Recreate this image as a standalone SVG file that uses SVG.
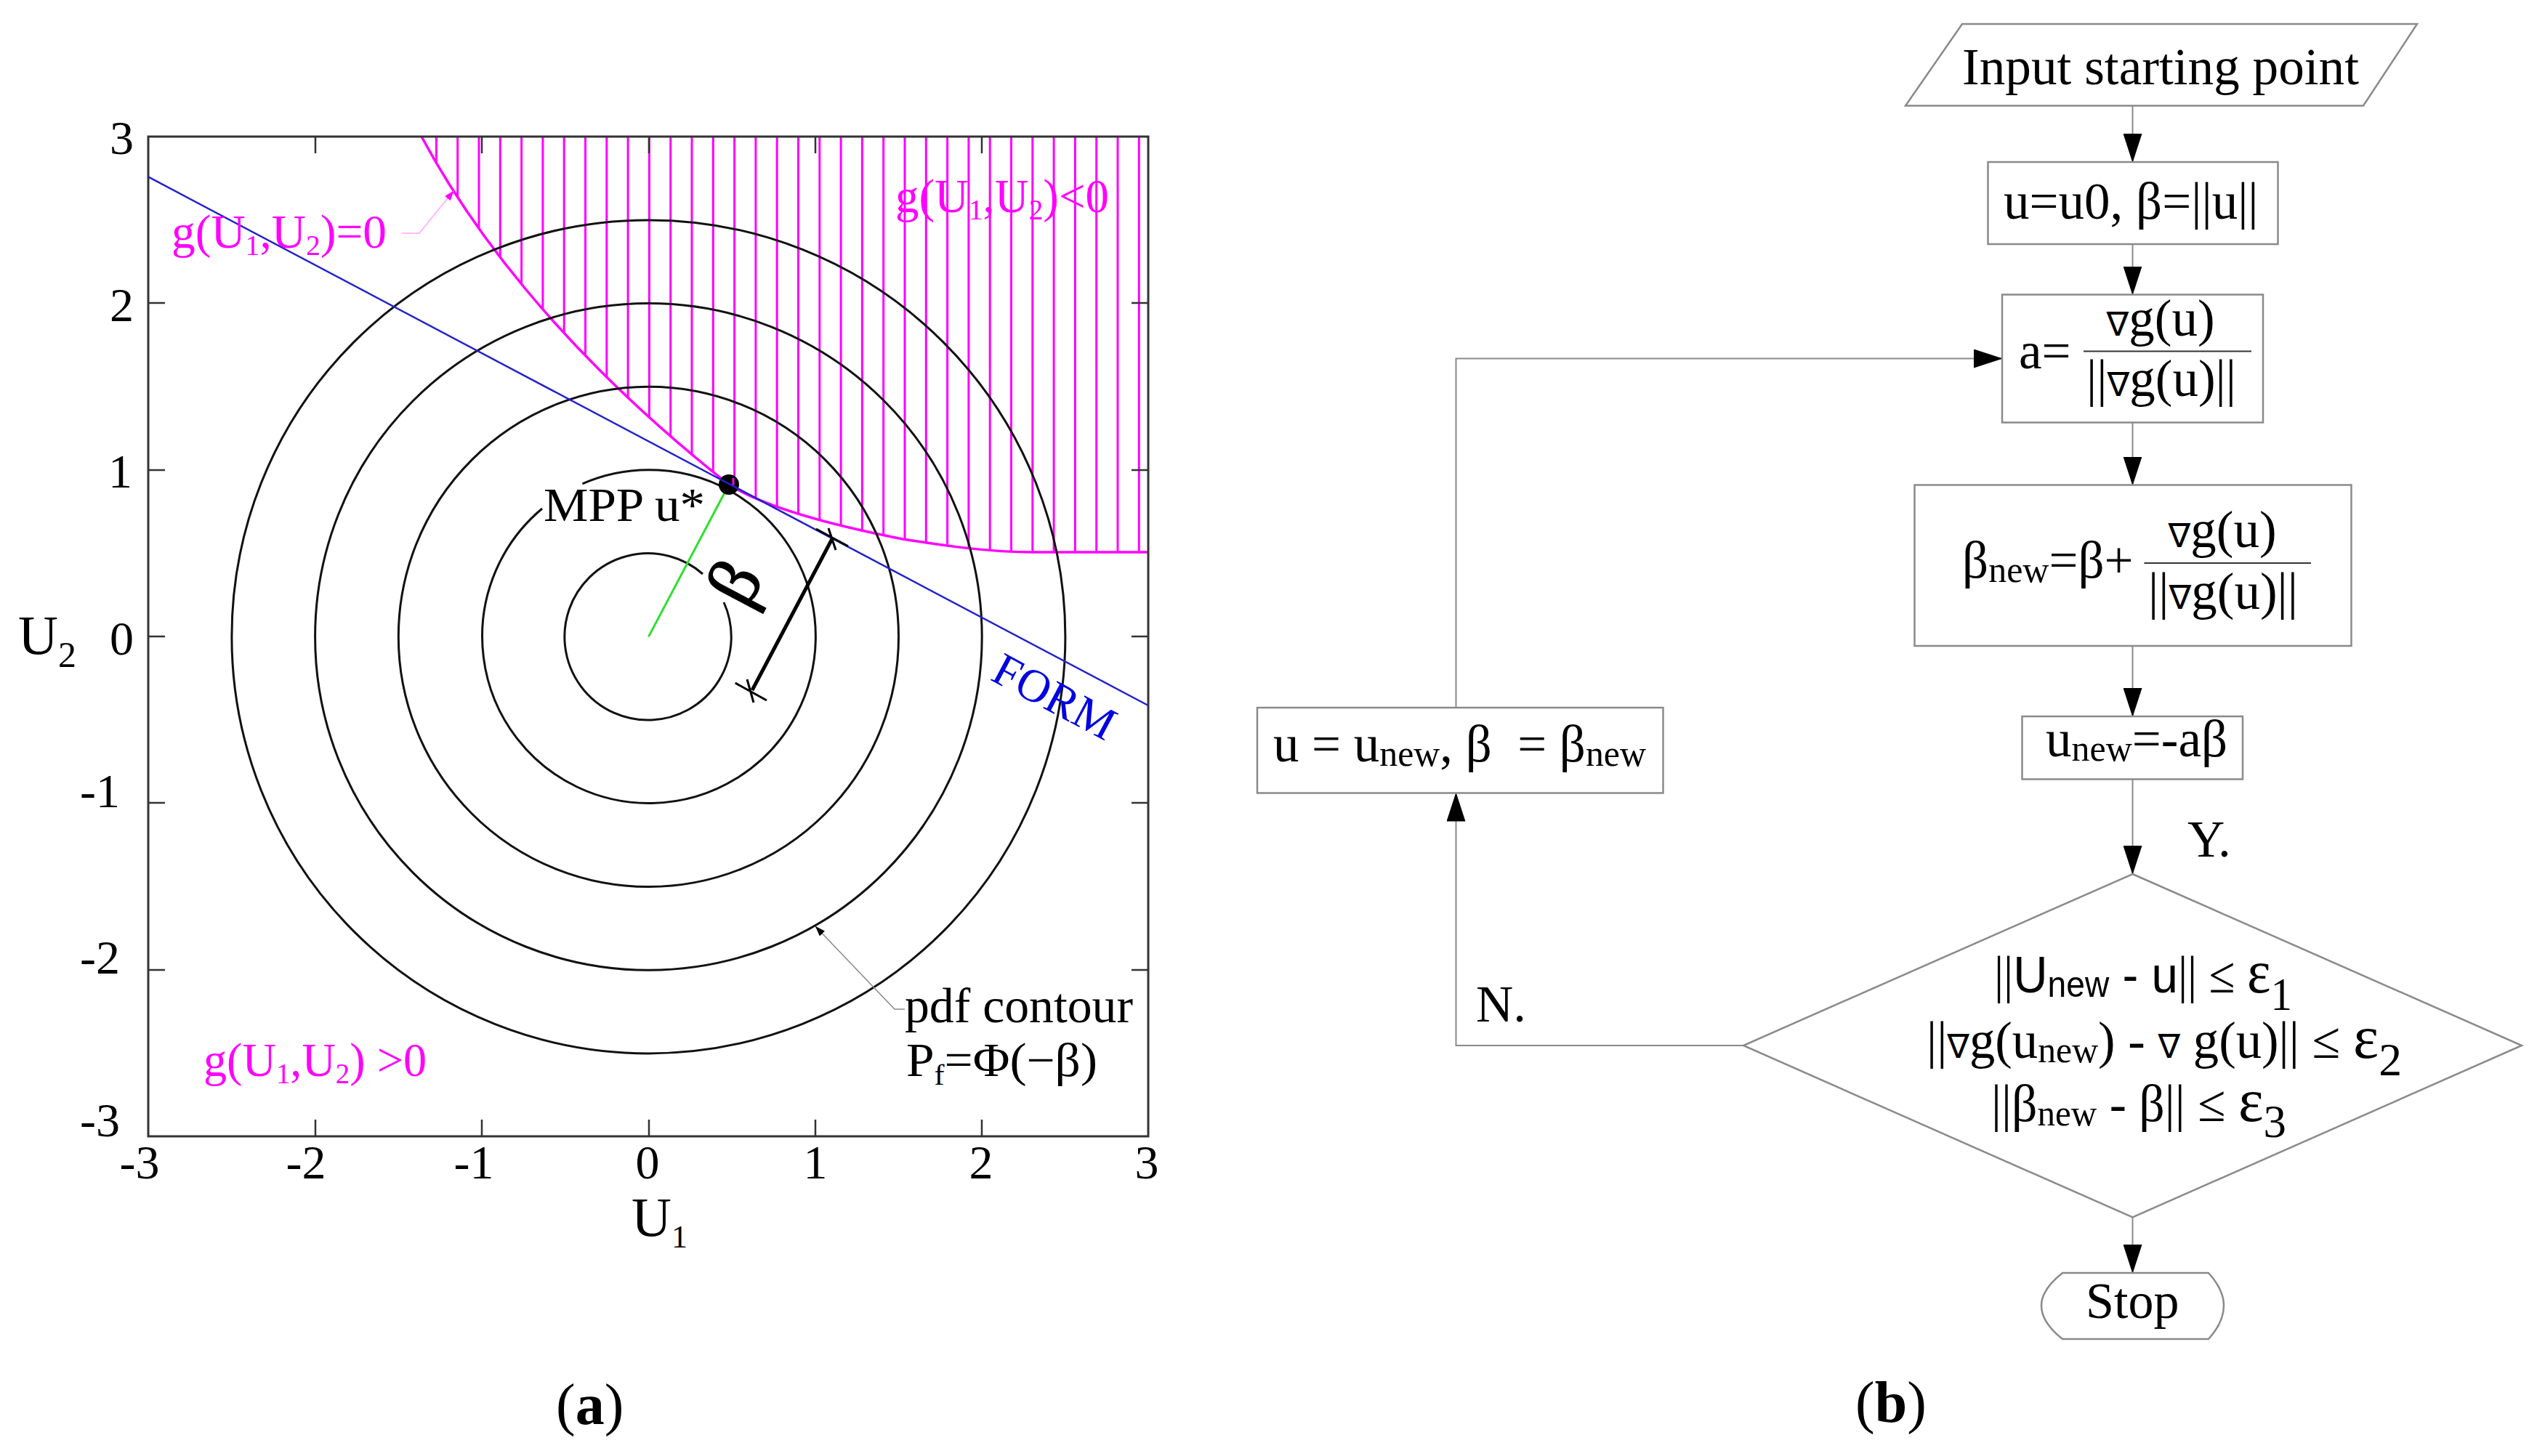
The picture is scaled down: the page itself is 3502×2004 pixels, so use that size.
<svg xmlns="http://www.w3.org/2000/svg" width="3502" height="2004" viewBox="0 0 3502 2004">
<style>
text{font-family:"Liberation Serif","DejaVu Serif",serif;fill:#000;white-space:pre}
.p{font-size:66px}
.f{font-size:71px}
.m{fill:#f0f}
.s{font-size:40px}
.ss{font-size:50px}
.a{font-family:"Liberation Sans","DejaVu Sans",sans-serif}
.e{font-size:84px}
.d{font-size:64px}
.frame{fill:none;stroke:#333;stroke-width:3}
.circ{fill:none;stroke:#111;stroke-width:3}
.box{fill:#fff;stroke:#8a8a8a;stroke-width:2.5}
.link{fill:none;stroke:#8a8a8a;stroke-width:2;marker-end:url(#ah)}
.fr{stroke:#333;stroke-width:2.5}
.nb{font-size:46px;font-family:"DejaVu Sans",sans-serif}
</style>
<defs>
<marker id="ah" markerUnits="userSpaceOnUse" markerWidth="40" markerHeight="26" refX="39" refY="13" orient="auto"><path d="M0 0L40 13L0 26z" fill="#000"/></marker>
<marker id="sm" markerUnits="userSpaceOnUse" markerWidth="14" markerHeight="10" refX="13" refY="5" orient="auto"><path d="M0 0L14 5L0 10z" fill="#f0f"/></marker>
<marker id="sk" markerUnits="userSpaceOnUse" markerWidth="14" markerHeight="10" refX="13" refY="5" orient="auto"><path d="M0 0L14 5L0 10z" fill="#000"/></marker>
<clipPath id="hz"><path d="M580 188C640 300 760 475 1003 667C1055 700 1150 724 1242 742C1300 751 1360 760 1421 760L1580 760V188Z"/></clipPath>
</defs>
<rect width="3502" height="2004" fill="#fff"/>
<g id="plot-a">
<path clip-path="url(#hz)" fill="none" stroke="#f0f" stroke-width="3" d="M600.4 188v580m29.3-580v580m29.3-580v580m29.3-580v580m29.3-580v580m29.3-580v580m29.3-580v580m29.3-580v580m29.3-580v580m29.3-580v580m29.3-580v580m29.3-580v580m29.3-580v580m29.3-580v580m29.3-580v580m29.3-580v580m29.3-580v580m29.3-580v580m29.3-580v580m29.3-580v580m29.3-580v580m29.3-580v580m29.3-580v580m29.3-580v580m29.3-580v580m29.3-580v580m29.3-580v580m29.3-580v580m29.3-580v580m29.3-580v580m29.3-580v580m29.3-580v580m29.3-580v580m29.3-580v580"/>
<path fill="none" stroke="#f0f" stroke-width="3.5" d="M580 188C640 300 760 475 1003 667C1055 700 1150 724 1242 742C1300 751 1360 760 1421 760L1580 760"/>
<path class="circ" d="M996 829A114.7 114.7 0 1 1 967 790"/>
<path class="circ" d="M801.4 665.8A229.4 229.4 0 1 1 746 700"/>
<circle class="circ" cx="892.4" cy="876.4" r="344.1"/>
<circle class="circ" cx="892.4" cy="876.4" r="458.8"/>
<circle class="circ" cx="892.4" cy="876.4" r="573.5"/>
<rect class="frame" x="204" y="188" width="1376" height="1376"/>
<path class="fr" d="M434 188v23M663 188v23M893 188v23M1122 188v23M1351 188v23M434 1564v-23M663 1564v-23M893 1564v-23M1122 1564v-23M1351 1564v-23M204 417h23M204 647h23M204 876h23M204 1105h23M204 1335h23M1580 417h-23M1580 647h-23M1580 876h-23M1580 1105h-23M1580 1335h-23"/>
<path d="M892.4 876.4L1003 667" stroke="#2ee02e" stroke-width="3" fill="none"/>
<circle cx="1003" cy="667" r="14" fill="#000"/>
<path d="M1009 658v10" stroke="#f0f" stroke-width="3"/>
<path d="M204 243.4L1580 971" stroke="#2222cc" stroke-width="2.5" fill="none"/>
<path d="M1035 950L1145 741.7" stroke="#000" stroke-width="5" fill="none"/>
<path d="M1011.7 940L1055 964M1028 935L1037 967M1123 728L1167 751.7M1140 727L1150 757" stroke="#000" stroke-width="3" fill="none"/>
<path d="M553 321H577L624 263" stroke="#fbf" stroke-width="2" fill="none" marker-end="url(#sm)"/>
<path d="M1245 1389H1231L1122.5 1275.5" stroke="#888" stroke-width="1.5" fill="none" marker-end="url(#sk)"/>
<text class="p" x="184" y="212" text-anchor="end">3</text>
<text class="p" x="184" y="441.500" text-anchor="end">2</text>
<text class="p" x="182" y="671" text-anchor="end">1</text>
<text class="p" x="184" y="900.500" text-anchor="end">0</text>
<text class="p" x="165" y="1111" text-anchor="end">-1</text>
<text class="p" x="165" y="1340" text-anchor="end">-2</text>
<text class="p" x="165" y="1564" text-anchor="end">-3</text>
<text class="p" x="192" y="1622" text-anchor="middle">-3</text>
<text class="p" x="421" y="1622" text-anchor="middle">-2</text>
<text class="p" x="652" y="1622" text-anchor="middle">-1</text>
<text class="p" x="891" y="1622" text-anchor="middle">0</text>
<text class="p" x="1122" y="1622" text-anchor="middle">1</text>
<text class="p" x="1350" y="1622" text-anchor="middle">2</text>
<text class="p" x="1578" y="1622" text-anchor="middle">3</text>
<text x="25" y="900" font-size="76">U<tspan font-size="50" dy="18">2</tspan></text>
<text x="869" y="1701" font-size="76">U<tspan font-size="44" dy="16">1</tspan></text>
<text class="p m" x="236" y="341" textLength="296" lengthAdjust="spacingAndGlyphs">g(U<tspan class="s" dy="10">1</tspan><tspan dy="-10">,U</tspan><tspan class="s" dy="10">2</tspan><tspan dy="-10">)=0</tspan></text>
<text class="p m" x="1232" y="292" textLength="294" lengthAdjust="spacingAndGlyphs">g(U<tspan class="s" dy="10">1</tspan><tspan dy="-10">,U</tspan><tspan class="s" dy="10">2</tspan><tspan dy="-10">)&lt;0</tspan></text>
<text class="p m" x="280" y="1481" textLength="307" lengthAdjust="spacingAndGlyphs">g(U<tspan class="s" dy="10">1</tspan><tspan dy="-10">,U</tspan><tspan class="s" dy="10">2</tspan><tspan dy="-10">) &gt;0</tspan></text>
<text class="p" x="748" y="717" textLength="222" lengthAdjust="spacingAndGlyphs">MPP u*</text>
<text x="1245" y="1407" font-size="67" textLength="314" lengthAdjust="spacingAndGlyphs">pdf contour</text>
<text class="p" x="1247" y="1481" textLength="263" lengthAdjust="spacingAndGlyphs">P<tspan class="s" dy="12">f</tspan><tspan dy="-12">=Φ(−β)</tspan></text>
<text font-size="64" fill="#0000e0" style="fill:#0000e0" transform="translate(1361 935) rotate(28)">FORM</text>
<text font-size="100" stroke="#000" stroke-width="1.5" transform="translate(1028 840) rotate(-62)">β</text>
<text x="765" y="1960" font-size="80">(<tspan font-weight="bold">a</tspan>)</text>
</g>
<g id="connectors">
<path class="link" d="M2934.500 145V223"/>
<path class="link" d="M2934.500 336V405.500"/>
<path class="link" d="M2934.500 581.500V667.500"/>
<path class="link" d="M2934.500 889V986"/>
<path class="link" d="M2934.500 1072.500V1203"/>
<path class="link" d="M2934.500 1675.500V1752"/>
<path class="link" d="M2399 1439H2003.500V1091.500"/>
<path class="link" d="M2003.500 974V493.500H2755"/>
</g>
<g id="node-input">
<path class="box" d="M2700 33H3326L3252 145.500H2622Z"/>
<text class="f" x="2700" y="116" textLength="546" lengthAdjust="spacingAndGlyphs">Input starting point</text>
</g>
<g id="node-init">
<rect class="box" x="2735.500" y="223" width="399" height="113"/>
<text class="f" x="2757" y="301">u=u0, β=||u||</text>
</g>
<g id="node-a">
<rect class="box" x="2755" y="405.500" width="359" height="176"/>
<text class="f" x="2778" y="507">a=</text>
<path d="M2867 483.500H3098" stroke="#333" stroke-width="2"/>
<text class="f" x="2973" y="462" text-anchor="middle"><tspan class="nb">∇</tspan>g(u)</text>
<text class="f" x="2974" y="545" text-anchor="middle">||<tspan class="nb">∇</tspan>g(u)||</text>
</g>
<g id="node-beta">
<rect class="box" x="2634.500" y="667.500" width="601" height="221.500"/>
<text class="f" x="2700" y="795">β<tspan class="ss" dy="6">new</tspan><tspan dy="-6">=β+</tspan></text>
<path d="M2950.500 775H3180" stroke="#333" stroke-width="2"/>
<text class="f" x="3058" y="753" text-anchor="middle"><tspan class="nb">∇</tspan>g(u)</text>
<text class="f" x="3059" y="838" text-anchor="middle">||<tspan class="nb">∇</tspan>g(u)||</text>
</g>
<g id="node-unew">
<rect class="box" x="2782.500" y="986" width="303.500" height="86.500"/>
<text class="f" x="2815" y="1041">u<tspan class="ss" dy="6">new</tspan><tspan dy="-6">=-aβ</tspan></text>
</g>
<g id="node-update">
<rect class="box" x="1730" y="974" width="558.500" height="117.500"/>
<text class="f" x="1752" y="1048" textLength="513" lengthAdjust="spacingAndGlyphs">u = u<tspan class="ss" dy="6">new</tspan><tspan dy="-6">, β  = β</tspan><tspan class="ss" dy="6">new</tspan></text>
</g>
<g id="node-check">
<path class="box" d="M2934.500 1203L3470 1439L2934.500 1675.500L2399 1439Z"/>
<text class="f" x="2744" y="1366" textLength="410" lengthAdjust="spacingAndGlyphs">||<tspan class="a">U</tspan><tspan class="a ss" dy="6">new</tspan><tspan class="a" dy="-6"> - u</tspan>|| ≤ <tspan class="e">ε</tspan><tspan class="d" dy="24">1</tspan></text>
<text class="f" x="2651" y="1456" textLength="654" lengthAdjust="spacingAndGlyphs">||<tspan class="nb">∇</tspan>g(u<tspan class="ss" dy="6">new</tspan><tspan dy="-6">) - </tspan><tspan class="nb">∇</tspan> g(u)|| ≤ <tspan class="e">ε</tspan><tspan class="d" dy="24">2</tspan></text>
<text class="f" x="2740" y="1543" textLength="406" lengthAdjust="spacingAndGlyphs">||β<tspan class="ss" dy="6">new</tspan><tspan dy="-6"> - β|| ≤ </tspan><tspan class="e">ε</tspan><tspan class="d" dy="22">3</tspan></text>
</g>
<g id="node-stop">
<path class="box" d="M2838 1752H3039Q3060 1775 3060 1797Q3060 1820 3039 1843H2838Q2809 1820 2809 1797Q2809 1775 2838 1752Z"/>
<text x="2870" y="1814" font-size="70">Stop</text>
</g>
<text class="f" x="3010" y="1179">Y.</text>
<text class="f" x="2031" y="1406">N.</text>
<text x="2553" y="1957" font-size="80">(<tspan font-weight="bold">b</tspan>)</text>
</svg>
